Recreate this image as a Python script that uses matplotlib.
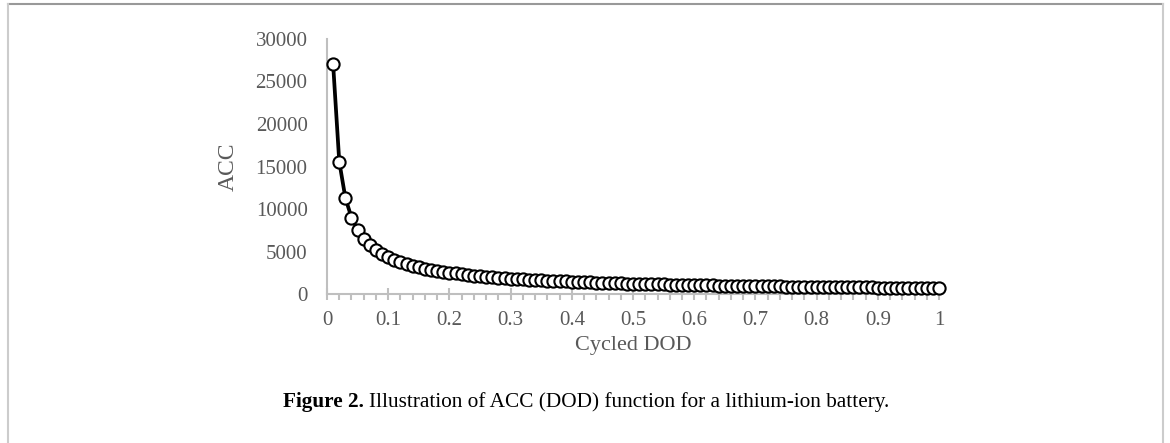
import matplotlib
matplotlib.use('Agg')
from matplotlib import pyplot as plt
from matplotlib.lines import Line2D
from matplotlib.ticker import MultipleLocator

# cycled depth of discharge (0.01 .. 1.00)
dod = [k / 100 for k in range(1, 101)]

# achievable cycle count
acc = [27000, 15580, 11300, 8990, 7535, 6520, 5770, 5190, 4730, 4350,
       4030, 3763, 3532, 3329, 3153, 2995, 2854, 2728, 2614, 2510,
       2414, 2328, 2247, 2172, 2103, 2038, 1978, 1921, 1869, 1820,
       1773, 1729, 1688, 1649, 1612, 1577, 1543, 1511, 1479, 1448,
       1420, 1393, 1367, 1342, 1318, 1295, 1273, 1252, 1232, 1212,
       1193, 1175, 1158, 1141, 1125, 1109, 1094, 1079, 1065, 1051,
       1037, 1024, 1011, 999, 987, 975, 964, 953, 942, 931,
       920, 910, 900, 891, 881, 872, 863, 854, 845, 836,
       828, 821, 813, 806, 798, 791, 784, 777, 770, 762,
       756, 749, 743, 737, 731, 725, 719, 712, 706, 700]

xticks = [i / 10 for i in range(11)]
xlabels = ['0', '0.1', '0.2', '0.3', '0.4', '0.5', '0.6', '0.7', '0.8', '0.9', '1']
yticks = [0, 5000, 10000, 15000, 20000, 25000, 30000]

plt.rcParams['font.family'] = ['Liberation Serif', 'DejaVu Serif']

fig = plt.figure(figsize=(11.7, 4.43), dpi=100)
ax = fig.add_axes([0.2795, 0.3363, 0.5231, 0.5757])

ax.plot(dod, acc, color='black', linewidth=2.7, marker='o', markersize=8.8,
        markerfacecolor='white', markeredgecolor='black', markeredgewidth=1.5,
        clip_on=False, zorder=3)

ax.set_xlim(0, 1)
ax.set_ylim(0, 30000)
ax.set_xticks(xticks)
ax.set_xticklabels(xlabels)
ax.set_yticks(yticks)
ax.xaxis.set_minor_locator(MultipleLocator(0.02))

grey = '#bfbfbf'
for side in ['top', 'right']:
    ax.spines[side].set_visible(False)
ax.spines['left'].set_color(grey)
ax.spines['bottom'].set_color(grey)
ax.spines['left'].set_linewidth(1.5)
ax.spines['bottom'].set_linewidth(1.5)

ax.tick_params(axis='x', which='major', direction='inout', length=9, width=1.5,
               color=grey, labelsize=15, labelcolor='#595959', pad=8)
ax.tick_params(axis='x', which='minor', direction='out', length=4, width=1.5, color=grey)
ax.tick_params(axis='y', length=0, labelsize=15, labelcolor='#595959', pad=14)

ax.set_xlabel('Cycled DOD', fontsize=16, color='#595959', labelpad=4)
ax.set_ylabel('ACC', fontsize=17, color='#595959', labelpad=12)

# caption: bold lead-in followed by plain text
fig.canvas.draw()
renderer = fig.canvas.get_renderer()
cap_y = 0.092
t1 = fig.text(283 / 1170, cap_y, 'Figure 2.', fontsize=15.3, fontweight='bold',
              ha='left', va='center')
bb = t1.get_window_extent(renderer)
fig.text((bb.x1 + 5) / 1170, cap_y, 'Illustration of ACC (DOD) function for a lithium-ion battery.',
         fontsize=15.3, ha='left', va='center')

# page frame
fig.add_artist(Line2D([8 / 1170, 1163 / 1170], [1 - 4 / 443, 1 - 4 / 443],
                      transform=fig.transFigure, color='#999999', linewidth=1.5))
fig.add_artist(Line2D([8 / 1170, 8 / 1170], [0.002, 1 - 4 / 443],
                      transform=fig.transFigure, color='#cccccc', linewidth=1.5))
fig.add_artist(Line2D([1163 / 1170, 1163 / 1170], [0.0, 1 - 4 / 443],
                      transform=fig.transFigure, color='#cccccc', linewidth=1.5))

plt.savefig('out.png', dpi=100)
